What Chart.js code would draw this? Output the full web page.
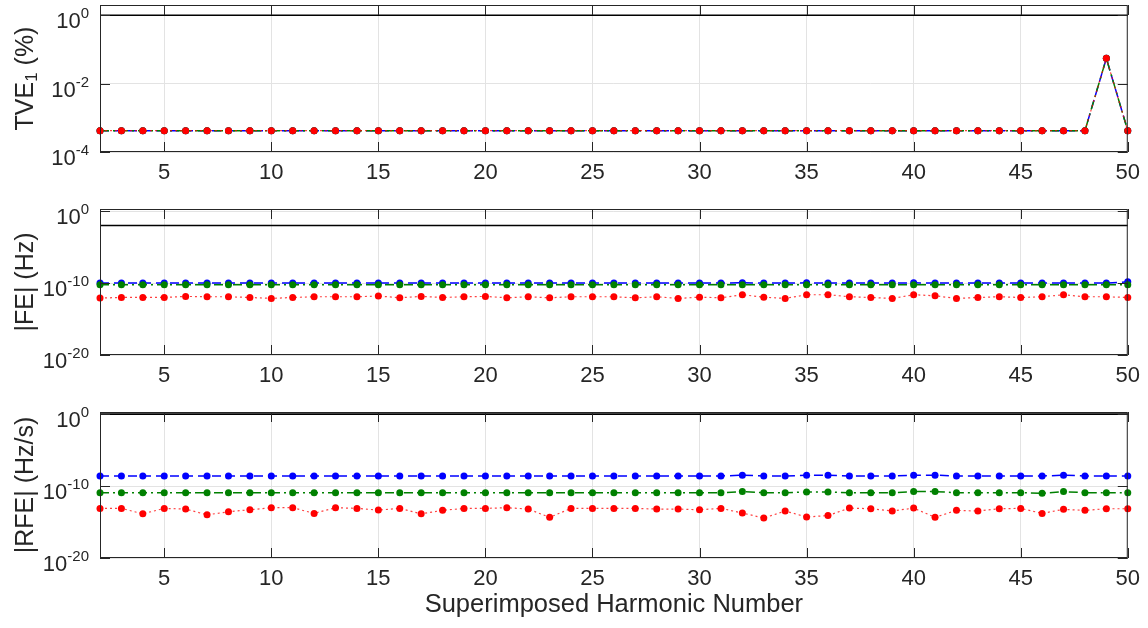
<!DOCTYPE html>
<html>
<head>
<meta charset="utf-8">
<script src="https://cdn.jsdelivr.net/npm/chart.js@4.4.1/dist/chart.umd.min.js"></script>
<style>
  html, body { margin: 0; padding: 0; background: #fff; }
  #wrap { position: relative; width: 1148px; height: 628px; }
  canvas { position: absolute; left: 0; }
</style>
</head>
<body>
<div id="wrap">
  <canvas id="tve" width="1148" height="190" style="top:0px"></canvas>
  <canvas id="fe" width="1148" height="200" style="top:190px"></canvas>
  <canvas id="rfe" width="1148" height="238" style="top:390px"></canvas>
</div>
<script>
// superimposed harmonic number
var harmonics = [2,3,4,5,6,7,8,9,10,11,12,13,14,15,16,17,18,19,20,21,22,23,24,25,26,
  27,28,29,30,31,32,33,34,35,36,37,38,39,40,41,42,43,44,45,46,47,48,49,50];
var xTicks = [5,10,15,20,25,30,35,40,45,50];

// TVE (%)
var tveBlue = [4.2e-4,4.2e-4,4.2e-4,4.2e-4,4.2e-4,4.2e-4,4.2e-4,4.2e-4,4.2e-4,4.2e-4,
  4.2e-4,4.2e-4,4.2e-4,4.2e-4,4.2e-4,4.2e-4,4.2e-4,4.2e-4,4.2e-4,4.2e-4,
  4.2e-4,4.2e-4,4.2e-4,4.2e-4,4.2e-4,4.2e-4,4.2e-4,4.2e-4,4.2e-4,4.2e-4,
  4.2e-4,4.2e-4,4.2e-4,4.2e-4,4.2e-4,4.2e-4,4.2e-4,4.2e-4,4.2e-4,4.2e-4,
  4.2e-4,4.2e-4,4.2e-4,4.2e-4,4.2e-4,4.2e-4,4.2e-4,0.055,4.2e-4];
var tveGreen = [4.2e-4,4.2e-4,4.2e-4,4.2e-4,4.2e-4,4.2e-4,4.2e-4,4.2e-4,4.2e-4,4.2e-4,
  4.2e-4,4.2e-4,4.2e-4,4.2e-4,4.2e-4,4.2e-4,4.2e-4,4.2e-4,4.2e-4,4.2e-4,
  4.2e-4,4.2e-4,4.2e-4,4.2e-4,4.2e-4,4.2e-4,4.2e-4,4.2e-4,4.2e-4,4.2e-4,
  4.2e-4,4.2e-4,4.2e-4,4.2e-4,4.2e-4,4.2e-4,4.2e-4,4.2e-4,4.2e-4,4.2e-4,
  4.2e-4,4.2e-4,4.2e-4,4.2e-4,4.2e-4,4.2e-4,4.2e-4,0.055,4.2e-4];
var tveRed = [4.2e-4,4.2e-4,4.2e-4,4.2e-4,4.2e-4,4.2e-4,4.2e-4,4.2e-4,4.2e-4,4.2e-4,
  4.2e-4,4.2e-4,4.2e-4,4.2e-4,4.2e-4,4.2e-4,4.2e-4,4.2e-4,4.2e-4,4.2e-4,
  4.2e-4,4.2e-4,4.2e-4,4.2e-4,4.2e-4,4.2e-4,4.2e-4,4.2e-4,4.2e-4,4.2e-4,
  4.2e-4,4.2e-4,4.2e-4,4.2e-4,4.2e-4,4.2e-4,4.2e-4,4.2e-4,4.2e-4,4.2e-4,
  4.2e-4,4.2e-4,4.2e-4,4.2e-4,4.2e-4,4.2e-4,4.2e-4,0.055,4.2e-4];

// |FE| (Hz)
var feBlue = [1e-10,1e-10,1e-10,1e-10,1e-10,1e-10,1e-10,1e-10,1e-10,1e-10,
  1e-10,1e-10,1e-10,1e-10,1e-10,1e-10,1e-10,1e-10,1e-10,1e-10,
  1e-10,1e-10,1e-10,1e-10,1e-10,1e-10,1e-10,1e-10,1e-10,1e-10,
  1.1e-10,1e-10,1e-10,1.1e-10,1e-10,1e-10,1e-10,1e-10,1.1e-10,1e-10,
  1e-10,1e-10,1e-10,1e-10,1e-10,1e-10,1e-10,1e-10,1.5e-10];
var feGreen = [6e-11,6e-11,6e-11,6e-11,6e-11,6e-11,6e-11,6e-11,6e-11,6e-11,
  6e-11,6e-11,6e-11,6e-11,6e-11,6e-11,6e-11,6e-11,6e-11,6e-11,
  6e-11,6e-11,6e-11,6e-11,6e-11,6e-11,6e-11,6e-11,6e-11,6e-11,
  6e-11,6e-11,6e-11,6e-11,6e-11,6e-11,6e-11,6e-11,6e-11,6e-11,
  6e-11,6e-11,6e-11,6e-11,6e-11,6e-11,6e-11,6e-11,6e-11];
var feRed = [8.3e-13,1e-12,1e-12,1e-12,1.4e-12,1.25e-12,1.25e-12,1e-12,7.4e-13,1e-12,
  1.25e-12,1.25e-12,1.25e-12,1.6e-12,9e-13,1.4e-12,1e-12,1.25e-12,1.4e-12,9e-13,
  1.25e-12,9e-13,1.25e-12,1.25e-12,1.25e-12,9e-13,1.25e-12,7.4e-13,1.1e-12,9e-13,
  2.4e-12,1.1e-12,7.4e-13,2.4e-12,2.4e-12,1.25e-12,1e-12,7.4e-13,2.4e-12,1.7e-12,
  7.4e-13,1e-12,1.25e-12,1e-12,1.25e-12,2.4e-12,1.25e-12,1.25e-12,1e-12];

// |RFE| (Hz/s)
var rfeBlue = [2.5e-9,2.5e-9,2.5e-9,2.5e-9,2.5e-9,2.5e-9,2.5e-9,2.5e-9,2.5e-9,2.5e-9,
  2.5e-9,2.5e-9,2.5e-9,2.5e-9,2.5e-9,2.5e-9,2.5e-9,2.5e-9,2.5e-9,2.5e-9,
  2.5e-9,2.5e-9,2.5e-9,2.5e-9,2.5e-9,2.5e-9,2.5e-9,2.5e-9,2.5e-9,2.5e-9,
  3.3e-9,2.5e-9,2.5e-9,3.3e-9,3.3e-9,2.5e-9,2.5e-9,2.5e-9,3.3e-9,3.3e-9,
  2.5e-9,2.5e-9,2.5e-9,2.5e-9,2.5e-9,3.3e-9,2.5e-9,2.5e-9,2.5e-9];
var rfeGreen = [1.2e-11,1.2e-11,1.2e-11,1.2e-11,1.2e-11,1.2e-11,1.2e-11,1.2e-11,1.2e-11,1.2e-11,
  1.2e-11,1.2e-11,1.2e-11,1.2e-11,1.2e-11,1.2e-11,1.2e-11,1.2e-11,1.2e-11,1.2e-11,
  1.2e-11,1.2e-11,1.2e-11,1.2e-11,1.2e-11,1.2e-11,1.2e-11,1.2e-11,1.2e-11,1.2e-11,
  1.7e-11,1.2e-11,1.2e-11,1.5e-11,1.5e-11,1.2e-11,1.2e-11,1.2e-11,1.7e-11,1.7e-11,
  1.2e-11,1.2e-11,1.2e-11,1.2e-11,1e-11,1.7e-11,1.2e-11,1.2e-11,1.2e-11];
var rfeRed = [7.9e-14,7.9e-14,1.4e-14,7.9e-14,6.4e-14,1e-14,2.7e-14,5.1e-14,9.8e-14,9.8e-14,
  1.6e-14,9.8e-14,7.9e-14,4.6e-14,7.9e-14,1.4e-14,4.2e-14,7.9e-14,7.9e-14,9.8e-14,
  6.4e-14,4.5e-15,7.9e-14,7.9e-14,7.9e-14,7.9e-14,6.4e-14,6.4e-14,5.1e-14,7.9e-14,
  1.8e-14,3.6e-15,3.4e-14,5e-15,8e-15,8.7e-14,7.1e-14,3.4e-14,8.7e-14,4.5e-15,
  4.2e-14,3.4e-14,7.1e-14,7.9e-14,1.6e-14,5.8e-14,4.2e-14,7.1e-14,7.1e-14];

// limit lines
var tveLimit = 1;
var feLimit = 0.01;
var rfeLimit = 1;

var FONT = "'Liberation Sans', Arial, Helvetica, sans-serif";
var TXT = '#262626';

function pts(arr) {
  return harmonics.map(function(h, i) { return { x: h, y: arr[i] }; });
}

function series(arr, color, dash, width, order) {
  return {
    data: pts(arr),
    borderColor: color,
    backgroundColor: color,
    borderWidth: width,
    borderDash: dash,
    pointRadius: 3.5,
    pointBorderWidth: 0,
    pointBackgroundColor: color.replace(/,0\.\d+\)/, ',1)'),
    tension: 0,
    clip: false,
    order: order
  };
}

// MATLAB-like box, inner ticks, superscript tick labels, y title
var matlabAxes = {
  id: 'matlabAxes',
  afterDraw: function(chart, args, o) {
    var ctx = chart.ctx, a = chart.chartArea;
    var xs = chart.scales.x, ys = chart.scales.y;
    ctx.save();
    ctx.strokeStyle = TXT;
    ctx.lineWidth = 1;
    ctx.strokeRect(a.left + 0.5, a.top + 0.5, a.right - a.left - 1, a.bottom - a.top - 1);
    ctx.beginPath();
    xTicks.forEach(function(v) {
      var px = Math.round(xs.getPixelForValue(v)) + 0.5;
      ctx.moveTo(px, a.bottom); ctx.lineTo(px, a.bottom - 10);
      ctx.moveTo(px, a.top); ctx.lineTo(px, a.top + 10);
    });
    o.ticks.forEach(function(v) {
      var py = Math.round(ys.getPixelForValue(v)) + 0.5;
      ctx.moveTo(a.left, py); ctx.lineTo(a.left + 10, py);
      ctx.moveTo(a.right, py); ctx.lineTo(a.right - 10, py);
    });
    ctx.stroke();

    // tick labels 10^n
    ctx.fillStyle = TXT;
    ctx.textBaseline = 'alphabetic';
    o.ticks.forEach(function(v) {
      var py = ys.getPixelForValue(v);
      var ex = String(Math.round(Math.log10(v)));
      var right = a.left - 11;
      ctx.font = '15px ' + FONT;
      var we = ctx.measureText(ex).width;
      ctx.textAlign = 'left';
      ctx.fillText(ex, right - we, py + 3);
      ctx.font = '22px ' + FONT;
      ctx.textAlign = 'right';
      ctx.fillText('10', right - we, py + 13);
    });

    // y title
    ctx.translate(26, (a.top + a.bottom) / 2);
    ctx.rotate(-Math.PI / 2);
    ctx.textBaseline = 'middle';
    ctx.textAlign = 'left';
    var total = 0;
    o.title.forEach(function(p) {
      ctx.font = p.size + 'px ' + FONT;
      total += ctx.measureText(p.t).width;
    });
    var x = -total / 2;
    o.title.forEach(function(p) {
      ctx.font = p.size + 'px ' + FONT;
      ctx.fillText(p.t, x, p.dy);
      x += ctx.measureText(p.t).width;
    });
    ctx.restore();

    if (o.xTitle) {
      ctx.save();
      ctx.fillStyle = TXT;
      ctx.font = '25.5px ' + FONT;
      ctx.textAlign = 'center';
      ctx.textBaseline = 'middle';
      ctx.fillText(o.xTitle, (a.left + a.right) / 2, o.xTitleY);
      ctx.restore();
    }
  }
};

function panel(id, blue, green, red, limit, yMin, yTicks, title, padTop, xHeight, xTitle, xTitleY) {
  return new Chart(document.getElementById(id), {
    type: 'line',
    data: {
      datasets: [
        series(blue, '#0000ff', [9, 5], 1.5, 3),
        series(green, '#008000', [9, 4, 2, 4], 1.5, 2),
        series(red, 'rgba(255,0,0,0.75)', [2, 3], 1.2, 1),
        {
          data: [{ x: harmonics[0], y: limit }, { x: harmonics[harmonics.length - 1], y: limit }],
          borderColor: '#000', borderWidth: 1.6, pointRadius: 0, clip: false, order: 4
        }
      ]
    },
    options: {
      responsive: false,
      animation: false,
      layout: { padding: { top: padTop, right: 16, left: 0, bottom: 0 } },
      plugins: {
        legend: { display: false },
        tooltip: { enabled: false },
        matlabAxes: { ticks: yTicks, title: title, xTitle: xTitle, xTitleY: xTitleY }
      },
      scales: {
        x: {
          type: 'linear', min: 2, max: 50,
          afterBuildTicks: function(s) { s.ticks = xTicks.map(function(v) { return { value: v }; }); },
          afterFit: function(s) { s.height = xHeight; },
          ticks: { font: { size: 22, family: FONT }, color: TXT, padding: 8, maxRotation: 0, autoSkip: false },
          grid: { color: '#e3e3e3', drawTicks: false },
          border: { display: false }
        },
        y: {
          type: 'logarithmic', min: yMin, max: 2,
          afterBuildTicks: function(s) { s.ticks = yTicks.map(function(v) { return { value: v }; }); },
          afterFit: function(s) { s.width = 100; },
          ticks: { display: false },
          grid: { color: '#e3e3e3', drawTicks: false },
          border: { display: false }
        }
      }
    },
    plugins: [matlabAxes]
  });
}

panel('tve', tveBlue, tveGreen, tveRed, tveLimit, 1e-4, [1e-4, 1e-2, 1],
  [{ t: 'TVE', size: 25, dy: 0 }, { t: '1', size: 17, dy: 6 }, { t: ' (%)', size: 25, dy: 0 }],
  5, 38);
panel('fe', feBlue, feGreen, feRed, feLimit, 1e-20, [1e-20, 1e-10, 1],
  [{ t: '|FE| (Hz)', size: 25, dy: 0 }],
  19, 35);
panel('rfe', rfeBlue, rfeGreen, rfeRed, rfeLimit, 1e-20, [1e-20, 1e-10, 1],
  [{ t: '|RFE| (Hz/s)', size: 25, dy: 0 }],
  22, 70, 'Superimposed Harmonic Number', 215);
</script>
</body>
</html>
